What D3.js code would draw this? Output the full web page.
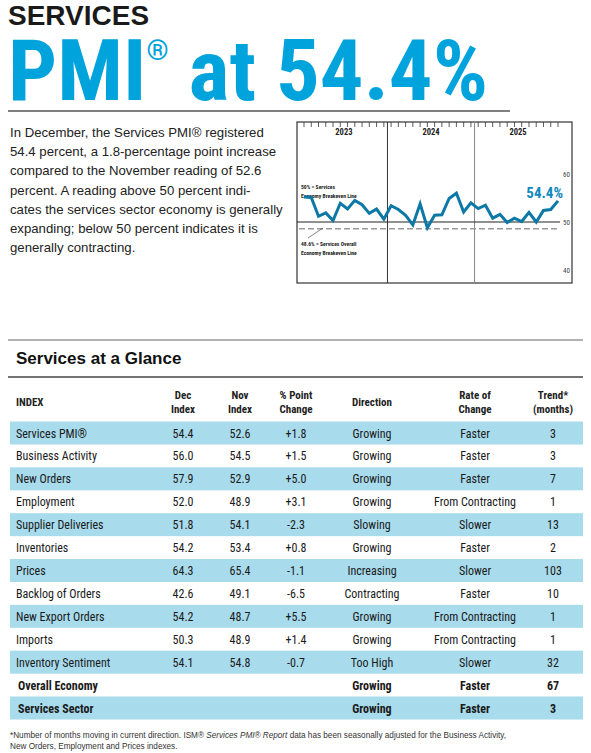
<!DOCTYPE html>
<html><head><meta charset="utf-8">
<script src="https://cdn.jsdelivr.net/npm/d3@7"></script>
<style>body{margin:0;background:#fff}</style>
</head><body>
<script>
// PMI monthly values Jan 2023 – Dec 2025
const months = d3.range(36);
const pmi = [55.2,55.1,51.2,51.9,50.3,53.9,52.7,54.5,53.6,51.8,52.7,50.6,
             53.4,52.6,51.4,49.4,53.8,48.8,51.4,51.5,54.9,56.0,52.1,54.0,
             52.8,53.5,50.8,51.6,49.9,50.8,50.1,52.0,50.0,52.4,52.6,54.4];
const years = ["2023","2024","2025"];
const yTicks = [40, 50, 60];

const tableHeader = ["INDEX","Dec\nIndex","Nov\nIndex","% Point\nChange","Direction","Rate of\nChange","Trend*\n(months)"];
const indexNames = ["Services PMI®","Business Activity","New Orders","Employment","Supplier Deliveries","Inventories","Prices","Backlog of Orders","New Export Orders","Imports","Inventory Sentiment","Overall Economy","Services Sector"];
const decIndex = ["54.4","56.0","57.9","52.0","51.8","54.2","64.3","42.6","54.2","50.3","54.1","",""];
const novIndex = ["52.6","54.5","52.9","48.9","54.1","53.4","65.4","49.1","48.7","48.9","54.8","",""];
const ptChange = ["+1.8","+1.5","+5.0","+3.1","-2.3","+0.8","-1.1","-6.5","+5.5","+1.4","-0.7","",""];
const direction = ["Growing","Growing","Growing","Growing","Slowing","Growing","Increasing","Contracting","Growing","Growing","Too High","Growing","Growing"];
const rateOfChange = ["Faster","Faster","Faster","From Contracting","Slower","Faster","Slower","Faster","From Contracting","From Contracting","Slower","Faster","Faster"];
const trend = ["3","3","7","1","13","2","103","10","1","1","32","67","3"];

const W = 591, H = 753;
const blue = "#00a3dc", rowBlue = "#a8dbec";
const cond = "'Liberation Sans Narrow','Roboto Condensed',sans-serif";
const svg = d3.select("body").append("svg").attr("width", W).attr("height", H)
  .style("font-family", "'Liberation Sans',Arial,sans-serif");

// Title
svg.append("text").attr("x", 8).attr("y", 25).attr("font-size", 28).attr("font-weight", "bold")
  .attr("fill", "#1a1a1a").text("SERVICES");
const t = svg.append("text").attr("x", 8).attr("y", 100).attr("font-family", cond)
  .attr("font-weight", "bold").attr("font-size", 86).attr("fill", blue)
  .attr("textLength", 480).attr("lengthAdjust", "spacingAndGlyphs");
t.append("tspan").text("PMI");
t.append("tspan").attr("font-size", 28).attr("dy", -40).text("®");
t.append("tspan").attr("dy", 40).text(" at 54.4%");
svg.append("line").attr("x1", 8).attr("x2", 510).attr("y1", 111).attr("y2", 111)
  .attr("stroke", "#555").attr("stroke-width", 1.5);

// Intro paragraph
const para = ["In December, the Services PMI® registered","54.4 percent, a 1.8-percentage point increase",
  "compared to the November reading of 52.6","percent. A reading above 50 percent indi-",
  "cates the services sector economy is generally","expanding; below 50 percent indicates it is","generally contracting."];
svg.append("g").selectAll("text").data(para).join("text")
  .attr("x", 10).attr("y", (d, i) => 137 + i * 19.2).attr("font-size", 13.2).attr("fill", "#222").text(d => d);

// Line chart
const fL = 297, fR = 572, fT = 122, fB = 283;
const x = d3.scaleLinear().domain([0, 35]).range([304, 558]);
const y = d3.scaleLinear().domain([40, 60]).range([270, 174]);
const g = svg.append("g");
g.append("rect").attr("x", fL).attr("y", fT).attr("width", fR - fL).attr("height", fB - fT)
  .attr("fill", "none").attr("stroke", "#333").attr("stroke-width", 1.2);
g.selectAll(".mt").data(months).join("line")
  .attr("x1", d => x(d)).attr("x2", d => x(d)).attr("y1", fT).attr("y2", fT + 5)
  .attr("stroke", "#333").attr("stroke-width", 0.8);
g.selectAll(".yd").data([11.5, 23.5]).join("line")
  .attr("x1", d => x(d)).attr("x2", d => x(d)).attr("y1", fT).attr("y2", fB)
  .attr("stroke", (d, i) => i ? "#888" : "#333").attr("stroke-width", 1);
g.selectAll(".yl").data(years).join("text")
  .attr("x", (d, i) => x(i * 12 + 5.5)).attr("y", fT + 13).attr("text-anchor", "middle")
  .attr("font-family", cond).attr("font-weight", "bold").attr("font-size", 8.5).attr("fill", "#222").text(d => d);
g.selectAll(".yt").data(yTicks).join("text")
  .attr("x", fR - 2).attr("y", d => y(d) + 3).attr("text-anchor", "end")
  .attr("font-family", cond).attr("font-size", 7).attr("fill", "#444").text(d => d);
g.append("line").attr("x1", fL).attr("x2", fR - 12).attr("y1", y(50)).attr("y2", y(50))
  .attr("stroke", "#222").attr("stroke-width", 1);
g.append("line").attr("x1", fL + 2).attr("x2", fR - 12).attr("y1", y(48.6)).attr("y2", y(48.6))
  .attr("stroke", "#999").attr("stroke-width", 1.6).attr("stroke-dasharray", "6,3");
g.append("line").attr("x1", 308).attr("x2", 323).attr("y1", 238).attr("y2", 228)
  .attr("stroke", "#333").attr("stroke-width", 0.6);
const note = (lines, yy) => g.append("g").selectAll("text").data(lines).join("text")
  .attr("x", 301).attr("y", (d, i) => yy + i * 9).attr("font-family", cond).attr("font-weight", "bold")
  .attr("font-size", 5.6).attr("fill", "#222").text(d => d);
note(["50% = Services", "Economy Breakeven Line"], 189);
note(["48.6% = Services Overall", "Economy Breakeven Line"], 246);
g.append("path").datum(pmi).attr("fill", "none").attr("stroke", "#0b78a6").attr("stroke-width", 3)
  .attr("d", d3.line().x((d, i) => x(i)).y(d => y(d)));
g.append("text").attr("x", 563).attr("y", 198).attr("text-anchor", "end").attr("font-family", cond)
  .attr("font-weight", "bold").attr("font-size", 15).attr("fill", "#1089c0").text("54.4%");

// Table
svg.append("line").attr("x1", 8).attr("x2", 583).attr("y1", 340).attr("y2", 340).attr("stroke", "#666").attr("stroke-width", 1.2);
svg.append("text").attr("x", 16).attr("y", 364).attr("font-size", 17).attr("font-weight", "bold").attr("fill", "#111").text("Services at a Glance");
svg.append("line").attr("x1", 8).attr("x2", 583).attr("y1", 377).attr("y2", 377).attr("stroke", "#444").attr("stroke-width", 1.5);

const cols = [{x: 16, a: "start"}, {x: 183, a: "middle"}, {x: 240, a: "middle"}, {x: 296, a: "middle"},
  {x: 372, a: "middle"}, {x: 475, a: "middle"}, {x: 553, a: "middle"}];
const hdr = svg.append("g").attr("font-family", cond).attr("font-weight", "bold").attr("font-size", 11).attr("fill", "#222");
tableHeader.forEach((h, c) => {
  const parts = h.split("\n");
  const y0 = parts.length === 1 ? 406 : 399;
  hdr.append("text").attr("x", cols[c].x).attr("text-anchor", cols[c].a).selectAll("tspan").data(parts).join("tspan")
    .attr("x", cols[c].x).attr("y", (d, i) => y0 + i * 14).text(d => d);
});

const rowY = d3.scaleLinear().domain([0, 12]).range([433, 708]);
const rows = indexNames.map((n, i) => [n, decIndex[i], novIndex[i], ptChange[i], direction[i], rateOfChange[i], trend[i]]);
const rg = svg.append("g").selectAll("g").data(rows).join("g");
rg.filter((d, i) => i % 2 === 0).append("rect").attr("x", 10).attr("width", 573)
  .attr("y", (d, i) => rowY(i * 2) - 11.5).attr("height", 23).attr("fill", rowBlue);
rg.each(function (r, i) {
  const bold = i >= 11;
  d3.select(this).selectAll("text").data(r).join("text")
    .attr("x", (d, c) => bold && c === 0 ? 18 : cols[c].x).attr("y", rowY(i) + 4.5)
    .attr("text-anchor", (d, c) => cols[c].a).attr("font-family", cond)
    .attr("font-weight", bold ? "bold" : "normal").attr("font-size", 12).attr("fill", "#1a1a1a").text(d => d);
});

// Footnote
const fn = svg.append("text").attr("y", 738).attr("x", 10).attr("font-size", 8.2).attr("fill", "#333");
fn.append("tspan").text("*Number of months moving in current direction. ISM® ");
fn.append("tspan").attr("font-style", "italic").text("Services PMI® Report");
fn.append("tspan").text(" data has been seasonally adjusted for the Business Activity,");
svg.append("text").attr("x", 10).attr("y", 749).attr("font-size", 8.2).attr("fill", "#333").text("New Orders, Employment and Prices indexes.");
</script>
</body></html>
